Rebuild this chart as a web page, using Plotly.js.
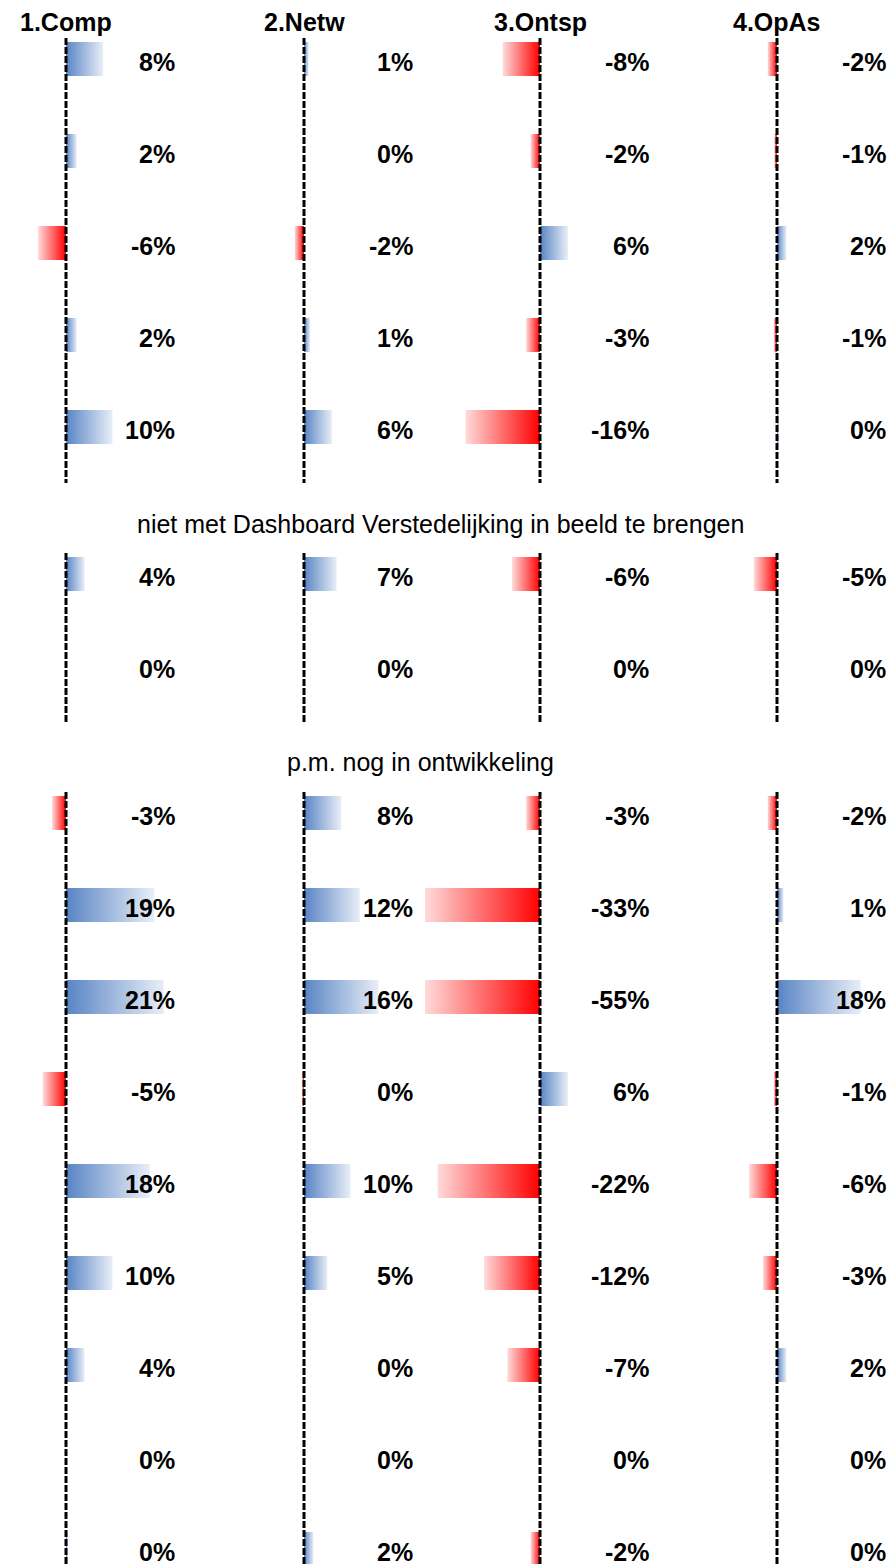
<!DOCTYPE html>
<html><head><meta charset="utf-8">
<script src="https://cdn.plot.ly/plotly-3.0.1.min.js"></script>
<style>html,body{margin:0;padding:0;background:#fff}</style>
</head><body>
<div id="chart" style="width:891px;height:1564px"></div>
<script>
// ---------- data ----------
const columns = ['1.Comp', '2.Netw', '3.Ontsp', '4.OpAs'];
const sectionTitles = ['', 'niet met Dashboard Verstedelijking in beeld te brengen', 'p.m. nog in ontwikkeling'];
const sectionSizes = [5, 2, 9];
const comp  = [8, 2.3, -6, 2.3, 10,   4, 0,   -3, 19, 21, -5, 18, 10, 4, 0, 0.4];
const netw  = [1, 0, -2, 1.3, 6,    7, 0,   8, 12, 16, -0.4, 10, 5, 0, 0, 2];
const ontsp = [-8, -2, 6, -3, -16, -6, 0, -3, -33, -55, 6, -22, -12, -7, 0, -2];
const opas  = [-2, -0.6, 2, -0.7, 0.4, -5, 0, -2, 1.4, 18, -0.7, -6, -3, 2, 0, 0];
const seriesValues = [comp, netw, ontsp, opas];

// ---------- layout constants ----------
const W = 891, H = 1564;
const zeroPx = [66, 304, 540, 777];
const domL = [0, 189, 425, 662];
const domR = [189, 425, 662, 891];
const pxPerPct = 4.65;
const sectionFirstPx = [59, 574, 813];
const rowPx = 92;
const barHalf = 17;
const sectionTitlePx = [null, 524, 762];
const sectionTitleX = [null, 440, 420];
const FONT = 'Liberation Sans, Arial, sans-serif';

const blueScale = [[0, '#5884c4'], [1, '#e8eef7']];
const redScale = [[0, '#ffdada'], [1, '#ff0000']];

function rowCenter(globalIdx) {
  let idx = globalIdx;
  for (let s = 0; s < sectionSizes.length; s++) {
    if (idx < sectionSizes[s]) return sectionFirstPx[s] + idx * rowPx;
    idx -= sectionSizes[s];
  }
}

const traces = [];
const annotations = [];
const shapes = [];
const layout = {
  width: W, height: H,
  margin: {l: 0, r: 0, t: 0, b: 0, pad: 0},
  paper_bgcolor: '#fff', plot_bgcolor: 'rgba(0,0,0,0)',
  showlegend: false,
  font: {family: FONT, color: '#000'},
  yaxis: {domain: [0, 1], range: [H, 0], visible: false, fixedrange: true, anchor: 'x'}
};

columns.forEach((name, c) => {
  const ax = c === 0 ? 'x' : 'x' + (c + 1);
  const axKey = c === 0 ? 'xaxis' : 'xaxis' + (c + 1);
  const rMin = (domL[c] - zeroPx[c]) / pxPerPct;
  const rMax = (domR[c] - zeroPx[c]) / pxPerPct;
  layout[axKey] = {
    domain: [domL[c] / W, domR[c] / W],
    range: [rMin, rMax],
    visible: false, fixedrange: true, anchor: 'y'
  };
  const vals = seriesValues[c];
  vals.forEach((v, r) => {
    const yc = rowCenter(r);
    if (v !== 0) {
      const vd = Math.min(Math.max(v, rMin), rMax); // bar truncated at the axis edge
      traces.push({
        type: 'scatter', mode: 'none',
        x: [0, vd, vd, 0], y: [yc - barHalf, yc - barHalf, yc + barHalf, yc + barHalf],
        fill: 'toself',
        fillcolor: v > 0 ? '#9db5dc' : '#ff8080',
        fillgradient: {type: 'horizontal', colorscale: v > 0 ? blueScale : redScale},
        xaxis: ax, yaxis: 'y', hoverinfo: 'skip', showlegend: false
      });
    }
    let rv = Math.round(v);
    if (rv === 0) rv = 0;
    annotations.push({
      xref: ax, yref: 'y', x: 0, y: yc, xshift: 111, yshift: -3,
      xanchor: 'right', yanchor: 'middle', showarrow: false,
      text: '<b>' + rv + '%</b>', font: {family: FONT, size: 25, color: '#000'}
    });
  });
  // header
  annotations.push({
    xref: ax, yref: 'y', x: 0, y: 22, xanchor: 'center', yanchor: 'middle', showarrow: false,
    text: '<b>' + name + '</b>', font: {family: FONT, size: 25, color: '#000'}
  });
  // dashed zero lines per section
  sectionSizes.forEach((n, s) => {
    const first = sectionFirstPx[s];
    const last = first + (n - 1) * rowPx;
    shapes.push({
      type: 'line', xref: ax, yref: 'y', x0: 0, x1: 0, y0: first - 21, y1: last + 56,
      line: {color: '#000', width: 3, dash: '7px,2px'}, layer: 'above'
    });
  });
});

sectionTitles.forEach((t, s) => {
  if (!t) return;
  annotations.push({
    xref: 'paper', yref: 'y', x: sectionTitleX[s] / W, y: sectionTitlePx[s],
    xanchor: 'center', yanchor: 'middle', showarrow: false,
    text: t, font: {family: FONT, size: 25, color: '#000'}
  });
});

layout.annotations = annotations;
layout.shapes = shapes;

Plotly.newPlot('chart', traces, layout, {staticPlot: true, displayModeBar: false});
</script>
</body></html>
